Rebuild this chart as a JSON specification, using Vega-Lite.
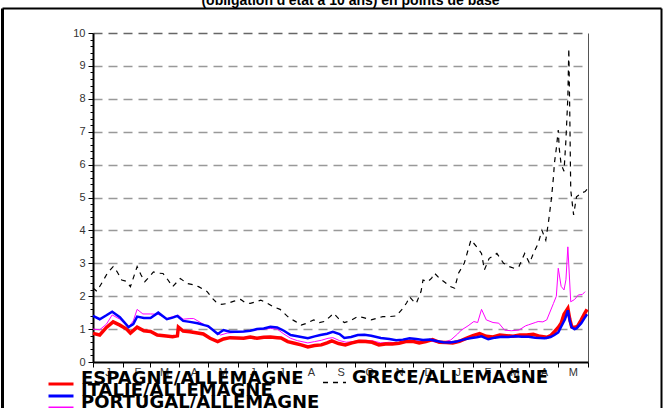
{
  "$schema": "https://vega.github.io/schema/vega-lite/v6.json",
  "width": 495,
  "height": 329,
  "autosize": "none",
  "padding": {"left": 93, "top": 33, "right": 75, "bottom": 46},
  "background": "white",
  "title": {"text": "(obligation d'état à 10 ans) en points de base", "anchor": "middle", "frame": "group", "font": "Liberation Sans", "fontSize": 14, "fontWeight": "bold", "baseline": "alphabetic", "offset": 0, "dy": 11, "dx": 10, "color": "black"},
  "config": {"view": {"stroke": null}, "font": "Liberation Sans",
    "legend": {"title": null, "orient": "none", "padding": 0, "symbolType": "stroke", "labelFont": "DejaVu Sans", "labelFontWeight": "bold", "labelFontSize": 18, "labelColor": "black", "labelBaseline": "alphabetic", "labelLimit": 0}},
  "datasets": {
    "esp": [
      {"d":"2009-01-01","v":0.87},{"d":"2009-01-08","v":0.82},{"d":"2009-01-15","v":1.05},{"d":"2009-01-22","v":1.22},{"d":"2009-01-29","v":1.12},{"d":"2009-02-05","v":1.0},{"d":"2009-02-09","v":0.88},{"d":"2009-02-16","v":1.06},{"d":"2009-02-23","v":0.95},{"d":"2009-03-02","v":0.93},{"d":"2009-03-09","v":0.82},{"d":"2009-03-16","v":0.8},{"d":"2009-03-25","v":0.77},{"d":"2009-03-30","v":0.8},{"d":"2009-03-31","v":1.06},{"d":"2009-04-05","v":0.94},{"d":"2009-04-12","v":0.92},{"d":"2009-04-20","v":0.88},{"d":"2009-04-26","v":0.85},{"d":"2009-05-03","v":0.72},{"d":"2009-05-11","v":0.62},{"d":"2009-05-17","v":0.7},{"d":"2009-05-24","v":0.74},{"d":"2009-05-31","v":0.73},{"d":"2009-06-07","v":0.72},{"d":"2009-06-14","v":0.76},{"d":"2009-06-21","v":0.72},{"d":"2009-06-28","v":0.75},{"d":"2009-07-05","v":0.76},{"d":"2009-07-12","v":0.74},{"d":"2009-07-16","v":0.73},{"d":"2009-07-23","v":0.62},{"d":"2009-07-30","v":0.57},{"d":"2009-08-06","v":0.52},{"d":"2009-08-13","v":0.46},{"d":"2009-08-20","v":0.5},{"d":"2009-08-27","v":0.52},{"d":"2009-09-02","v":0.58},{"d":"2009-09-07","v":0.64},{"d":"2009-09-14","v":0.56},{"d":"2009-09-21","v":0.52},{"d":"2009-09-28","v":0.58},{"d":"2009-10-05","v":0.63},{"d":"2009-10-12","v":0.62},{"d":"2009-10-19","v":0.6},{"d":"2009-10-26","v":0.52},{"d":"2009-11-02","v":0.55},{"d":"2009-11-09","v":0.55},{"d":"2009-11-16","v":0.57},{"d":"2009-11-23","v":0.62},{"d":"2009-11-30","v":0.63},{"d":"2009-12-07","v":0.58},{"d":"2009-12-14","v":0.62},{"d":"2009-12-21","v":0.68},{"d":"2009-12-28","v":0.6},{"d":"2010-01-04","v":0.59},{"d":"2010-01-11","v":0.58},{"d":"2010-01-18","v":0.63},{"d":"2010-01-25","v":0.72},{"d":"2010-02-01","v":0.8},{"d":"2010-02-08","v":0.86},{"d":"2010-02-15","v":0.78},{"d":"2010-02-22","v":0.76},{"d":"2010-03-01","v":0.82},{"d":"2010-03-08","v":0.8},{"d":"2010-03-15","v":0.78},{"d":"2010-03-22","v":0.82},{"d":"2010-03-29","v":0.82},{"d":"2010-04-05","v":0.84},{"d":"2010-04-12","v":0.78},{"d":"2010-04-19","v":0.75},{"d":"2010-04-23","v":0.8},{"d":"2010-04-27","v":0.92},{"d":"2010-05-01","v":1.05},{"d":"2010-05-04","v":1.18},{"d":"2010-05-07","v":1.45},{"d":"2010-05-11","v":1.63},{"d":"2010-05-13","v":1.3},{"d":"2010-05-15","v":1.07},{"d":"2010-05-18","v":1.05},{"d":"2010-05-21","v":1.08},{"d":"2010-05-25","v":1.28},{"d":"2010-05-28","v":1.45},{"d":"2010-05-31","v":1.6}
    ],
    "ita": [
      {"d":"2009-01-01","v":1.4},{"d":"2009-01-08","v":1.3},{"d":"2009-01-15","v":1.42},{"d":"2009-01-21","v":1.53},{"d":"2009-01-29","v":1.36},{"d":"2009-02-07","v":1.06},{"d":"2009-02-12","v":1.15},{"d":"2009-02-16","v":1.38},{"d":"2009-02-23","v":1.34},{"d":"2009-03-02","v":1.34},{"d":"2009-03-10","v":1.5},{"d":"2009-03-19","v":1.3},{"d":"2009-03-25","v":1.35},{"d":"2009-03-30","v":1.4},{"d":"2009-04-05","v":1.25},{"d":"2009-04-12","v":1.22},{"d":"2009-04-20","v":1.18},{"d":"2009-04-27","v":1.12},{"d":"2009-05-01","v":1.09},{"d":"2009-05-07","v":0.95},{"d":"2009-05-11","v":0.85},{"d":"2009-05-17","v":0.97},{"d":"2009-05-24","v":0.92},{"d":"2009-05-31","v":0.92},{"d":"2009-06-07","v":0.93},{"d":"2009-06-14","v":0.95},{"d":"2009-06-21","v":1.0},{"d":"2009-06-28","v":1.02},{"d":"2009-07-05","v":1.07},{"d":"2009-07-12","v":1.05},{"d":"2009-07-19","v":0.95},{"d":"2009-07-26","v":0.82},{"d":"2009-08-02","v":0.78},{"d":"2009-08-13","v":0.72},{"d":"2009-08-20","v":0.78},{"d":"2009-08-26","v":0.82},{"d":"2009-09-02","v":0.86},{"d":"2009-09-08","v":0.92},{"d":"2009-09-15","v":0.85},{"d":"2009-09-20","v":0.73},{"d":"2009-09-27","v":0.76},{"d":"2009-10-04","v":0.82},{"d":"2009-10-11","v":0.83},{"d":"2009-10-18","v":0.8},{"d":"2009-10-28","v":0.73},{"d":"2009-11-06","v":0.7},{"d":"2009-11-13","v":0.66},{"d":"2009-11-20","v":0.68},{"d":"2009-11-27","v":0.72},{"d":"2009-12-04","v":0.7},{"d":"2009-12-11","v":0.67},{"d":"2009-12-18","v":0.68},{"d":"2009-12-25","v":0.64},{"d":"2010-01-01","v":0.6},{"d":"2010-01-08","v":0.59},{"d":"2010-01-15","v":0.62},{"d":"2010-01-22","v":0.68},{"d":"2010-01-29","v":0.72},{"d":"2010-02-05","v":0.75},{"d":"2010-02-10","v":0.78},{"d":"2010-02-17","v":0.69},{"d":"2010-02-24","v":0.74},{"d":"2010-03-03","v":0.77},{"d":"2010-03-10","v":0.76},{"d":"2010-03-17","v":0.78},{"d":"2010-03-24","v":0.77},{"d":"2010-03-31","v":0.77},{"d":"2010-04-07","v":0.74},{"d":"2010-04-17","v":0.72},{"d":"2010-04-23","v":0.76},{"d":"2010-04-27","v":0.82},{"d":"2010-05-01","v":0.9},{"d":"2010-05-04","v":1.07},{"d":"2010-05-08","v":1.3},{"d":"2010-05-11","v":1.57},{"d":"2010-05-13","v":1.25},{"d":"2010-05-15","v":1.05},{"d":"2010-05-18","v":1.0},{"d":"2010-05-20","v":1.02},{"d":"2010-05-25","v":1.18},{"d":"2010-05-28","v":1.32},{"d":"2010-05-31","v":1.45}
    ],
    "por": [
      {"d":"2009-01-01","v":1.0},{"d":"2009-01-08","v":0.98},{"d":"2009-01-15","v":1.15},{"d":"2009-01-21","v":1.43},{"d":"2009-01-29","v":1.3},{"d":"2009-02-07","v":1.06},{"d":"2009-02-12","v":1.25},{"d":"2009-02-16","v":1.6},{"d":"2009-02-22","v":1.46},{"d":"2009-03-02","v":1.46},{"d":"2009-03-10","v":1.45},{"d":"2009-03-19","v":1.32},{"d":"2009-03-25","v":1.38},{"d":"2009-03-31","v":1.42},{"d":"2009-04-05","v":1.3},{"d":"2009-04-12","v":1.32},{"d":"2009-04-16","v":1.32},{"d":"2009-04-26","v":1.15},{"d":"2009-05-03","v":1.02},{"d":"2009-05-14","v":0.82},{"d":"2009-05-21","v":0.88},{"d":"2009-05-31","v":0.9},{"d":"2009-06-07","v":0.92},{"d":"2009-06-14","v":0.96},{"d":"2009-06-21","v":0.98},{"d":"2009-06-28","v":1.0},{"d":"2009-07-05","v":1.02},{"d":"2009-07-12","v":1.0},{"d":"2009-07-19","v":0.85},{"d":"2009-07-26","v":0.72},{"d":"2009-08-02","v":0.65},{"d":"2009-08-13","v":0.58},{"d":"2009-08-20","v":0.62},{"d":"2009-08-27","v":0.66},{"d":"2009-09-03","v":0.72},{"d":"2009-09-08","v":0.74},{"d":"2009-09-15","v":0.65},{"d":"2009-09-22","v":0.6},{"d":"2009-09-29","v":0.62},{"d":"2009-10-06","v":0.66},{"d":"2009-10-13","v":0.66},{"d":"2009-10-20","v":0.64},{"d":"2009-10-28","v":0.58},{"d":"2009-11-06","v":0.6},{"d":"2009-11-13","v":0.58},{"d":"2009-11-20","v":0.62},{"d":"2009-11-27","v":0.66},{"d":"2009-12-04","v":0.64},{"d":"2009-12-11","v":0.62},{"d":"2009-12-18","v":0.64},{"d":"2009-12-25","v":0.6},{"d":"2010-01-01","v":0.6},{"d":"2010-01-09","v":0.67},{"d":"2010-01-16","v":0.85},{"d":"2010-01-20","v":0.97},{"d":"2010-01-27","v":1.1},{"d":"2010-02-02","v":1.23},{"d":"2010-02-06","v":1.2},{"d":"2010-02-10","v":1.6},{"d":"2010-02-15","v":1.28},{"d":"2010-02-22","v":1.2},{"d":"2010-02-28","v":1.18},{"d":"2010-03-06","v":0.97},{"d":"2010-03-13","v":0.95},{"d":"2010-03-21","v":0.97},{"d":"2010-03-28","v":1.1},{"d":"2010-03-31","v":1.13},{"d":"2010-04-07","v":1.2},{"d":"2010-04-10","v":1.23},{"d":"2010-04-15","v":1.22},{"d":"2010-04-19","v":1.28},{"d":"2010-04-26","v":1.78},{"d":"2010-04-29","v":2.0},{"d":"2010-05-01","v":2.85},{"d":"2010-05-04","v":2.3},{"d":"2010-05-07","v":2.19},{"d":"2010-05-09","v":2.5},{"d":"2010-05-11","v":3.5},{"d":"2010-05-14","v":1.83},{"d":"2010-05-18","v":1.9},{"d":"2010-05-22","v":2.04},{"d":"2010-05-26","v":2.05},{"d":"2010-05-29","v":2.14}
    ],
    "gre": [
      {"d":"2009-01-01","v":2.25},{"d":"2009-01-05","v":2.15},{"d":"2009-01-11","v":2.44},{"d":"2009-01-16","v":2.7},{"d":"2009-01-22","v":2.9},{"d":"2009-01-26","v":2.75},{"d":"2009-01-31","v":2.49},{"d":"2009-02-05","v":2.45},{"d":"2009-02-09","v":2.29},{"d":"2009-02-16","v":2.9},{"d":"2009-02-20","v":2.65},{"d":"2009-02-24","v":2.44},{"d":"2009-03-01","v":2.6},{"d":"2009-03-05","v":2.74},{"d":"2009-03-10","v":2.7},{"d":"2009-03-15","v":2.69},{"d":"2009-03-20","v":2.5},{"d":"2009-03-25","v":2.29},{"d":"2009-04-02","v":2.54},{"d":"2009-04-09","v":2.39},{"d":"2009-04-15","v":2.35},{"d":"2009-04-21","v":2.29},{"d":"2009-04-30","v":2.14},{"d":"2009-05-05","v":1.95},{"d":"2009-05-09","v":1.83},{"d":"2009-05-15","v":1.75},{"d":"2009-05-21","v":1.78},{"d":"2009-05-28","v":1.85},{"d":"2009-06-04","v":1.9},{"d":"2009-06-09","v":1.8},{"d":"2009-06-14","v":1.78},{"d":"2009-06-20","v":1.83},{"d":"2009-06-25","v":1.88},{"d":"2009-07-01","v":1.8},{"d":"2009-07-08","v":1.68},{"d":"2009-07-15","v":1.6},{"d":"2009-07-23","v":1.38},{"d":"2009-07-30","v":1.25},{"d":"2009-08-06","v":1.12},{"d":"2009-08-12","v":1.18},{"d":"2009-08-19","v":1.28},{"d":"2009-08-25","v":1.2},{"d":"2009-08-30","v":1.23},{"d":"2009-09-04","v":1.35},{"d":"2009-09-09","v":1.48},{"d":"2009-09-14","v":1.32},{"d":"2009-09-20","v":1.2},{"d":"2009-09-26","v":1.25},{"d":"2009-10-04","v":1.38},{"d":"2009-10-10","v":1.35},{"d":"2009-10-18","v":1.28},{"d":"2009-10-24","v":1.33},{"d":"2009-10-30","v":1.38},{"d":"2009-11-06","v":1.38},{"d":"2009-11-13","v":1.4},{"d":"2009-11-20","v":1.63},{"d":"2009-11-24","v":1.8},{"d":"2009-11-27","v":1.98},{"d":"2009-12-01","v":1.85},{"d":"2009-12-04","v":1.78},{"d":"2009-12-09","v":2.15},{"d":"2009-12-11","v":2.49},{"d":"2009-12-16","v":2.44},{"d":"2009-12-20","v":2.55},{"d":"2009-12-23","v":2.7},{"d":"2009-12-28","v":2.55},{"d":"2010-01-02","v":2.44},{"d":"2010-01-08","v":2.3},{"d":"2010-01-13","v":2.24},{"d":"2010-01-17","v":2.7},{"d":"2010-01-23","v":3.0},{"d":"2010-01-30","v":3.71},{"d":"2010-02-05","v":3.5},{"d":"2010-02-10","v":3.3},{"d":"2010-02-13","v":2.8},{"d":"2010-02-18","v":3.15},{"d":"2010-02-26","v":3.3},{"d":"2010-03-05","v":3.0},{"d":"2010-03-11","v":2.9},{"d":"2010-03-16","v":2.85},{"d":"2010-03-21","v":2.9},{"d":"2010-03-27","v":3.3},{"d":"2010-04-01","v":3.0},{"d":"2010-04-05","v":3.3},{"d":"2010-04-10","v":3.6},{"d":"2010-04-14","v":4.0},{"d":"2010-04-18","v":3.7},{"d":"2010-04-21","v":4.3},{"d":"2010-04-24","v":5.0},{"d":"2010-04-26","v":5.63},{"d":"2010-04-27","v":6.04},{"d":"2010-04-29","v":6.5},{"d":"2010-05-01","v":7.05},{"d":"2010-05-02","v":6.5},{"d":"2010-05-04","v":6.0},{"d":"2010-05-07","v":5.8},{"d":"2010-05-09","v":6.75},{"d":"2010-05-11","v":8.06},{"d":"2010-05-12","v":9.53},{"d":"2010-05-13","v":7.56},{"d":"2010-05-14","v":5.23},{"d":"2010-05-17","v":4.47},{"d":"2010-05-20","v":5.02},{"d":"2010-05-25","v":5.13},{"d":"2010-05-29","v":5.18},{"d":"2010-05-31","v":5.25}
    ]
  },
  "layer": [
    {
      "data": {"values": [{"f": 0}]},
      "mark": {"type": "point", "opacity": 0},
      "encoding": {
        "x": {"field": "f", "type": "quantitative", "scale": {"domain": [0, 1], "range": [-91, 568], "nice": false, "zero": false}, "axis": {"orient": "top", "offset": 25, "domainColor": "black", "domainWidth": 2, "ticks": false, "labels": false, "grid": false, "title": null}},
        "y": {"field": "f", "type": "quantitative", "scale": {"domain": [0, 1], "range": [387, -25], "nice": false, "zero": false}, "axis": {"orient": "left", "offset": 91, "domainColor": "black", "domainWidth": 3, "ticks": false, "labels": false, "grid": false, "title": null}}
      }
    },
    {
      "data": {"values": [{"f": 0}]},
      "mark": {"type": "point", "opacity": 0},
      "encoding": {
        "y": {"field": "f", "type": "quantitative", "scale": {"domain": [0, 1], "range": [387, -25], "nice": false, "zero": false}, "axis": {"orient": "right", "offset": 73, "domainColor": "black", "domainWidth": 2, "ticks": false, "labels": false, "grid": false, "title": null}}
      }
    },
    {
      "encoding": {
        "x": {"field": "d", "type": "temporal",
          "scale": {"type": "utc", "domain": [{"year": 2009, "month": 1, "date": 1, "utc": true}, {"year": 2010, "month": 6, "date": 1, "utc": true}]},
          "axis": {"title": null, "orient": "bottom",
            "values": [{"year":2009,"month":1,"date":1,"utc":true},{"year":2009,"month":2,"date":1,"utc":true},{"year":2009,"month":3,"date":1,"utc":true},{"year":2009,"month":4,"date":1,"utc":true},{"year":2009,"month":5,"date":1,"utc":true},{"year":2009,"month":6,"date":1,"utc":true},{"year":2009,"month":7,"date":1,"utc":true},{"year":2009,"month":8,"date":1,"utc":true},{"year":2009,"month":9,"date":1,"utc":true},{"year":2009,"month":10,"date":1,"utc":true},{"year":2009,"month":11,"date":1,"utc":true},{"year":2009,"month":12,"date":1,"utc":true},{"year":2010,"month":1,"date":1,"utc":true},{"year":2010,"month":2,"date":1,"utc":true},{"year":2010,"month":3,"date":1,"utc":true},{"year":2010,"month":4,"date":1,"utc":true},{"year":2010,"month":5,"date":1,"utc":true},{"year":2010,"month":6,"date":1,"utc":true}],
            "labelExpr": "(utcyear(datum.value) == 2010 && utcmonth(datum.value) == 5) ? '' : ['J','F','M','A','M','J','J','A','S','O','N','D'][utcmonth(datum.value)]",
            "labelOffset": 14.5, "labelFlush": false, "labelOverlap": false, "labelBound": false,
            "labelFont": "Liberation Sans", "labelFontSize": 11, "labelColor": "#333",
            "tickSize": 5, "tickColor": "black", "domainColor": "black", "domainWidth": 2, "labelPadding": -1,
            "grid": true, "gridColor": "#555", "gridWidth": 1,
            "gridOpacity": {"condition": {"test": "utcyear(datum.value) == 2010 && utcmonth(datum.value) == 5", "value": 1}, "value": 0}
          }
        },
        "y": {"field": "v", "type": "quantitative",
          "scale": {"domain": [0, 10], "nice": false},
          "axis": {"title": null, "orient": "left",
            "values": [0,0.2,0.4,0.6,0.8,1,1.2,1.4,1.6,1.8,2,2.2,2.4,2.6,2.8,3,3.2,3.4,3.6,3.8,4,4.2,4.4,4.6,4.8,5,5.2,5.4,5.6,5.8,6,6.2,6.4,6.6,6.8,7,7.2,7.4,7.6,7.8,8,8.2,8.4,8.6,8.8,9,9.2,9.4,9.6,9.8,10],
            "labelExpr": "abs(datum.value - round(datum.value)) < 0.01 ? '' + round(datum.value) : ''",
            "tickSize": {"condition": {"test": "abs(datum.value - round(datum.value)) < 0.01", "value": 5}, "value": 3},
            "tickColor": "black", "domainColor": "black", "domainWidth": 2,
            "labelFont": "Liberation Sans", "labelFontSize": 11, "labelColor": "#333", "labelPadding": 3, "labelOverlap": false,
            "grid": true, "gridDash": [9, 6], "gridWidth": 1.5,
            "gridColor": {"condition": {"test": "datum.value > 9.9", "value": "#666"}, "value": "#999"},
            "gridOpacity": {"condition": {"test": "abs(datum.value - round(datum.value)) < 0.01 && datum.value > 0.5", "value": 1}, "value": 0}
          }
        }
      },
      "layer": [
        {
          "data": {"name": "gre"},
          "mark": {"type": "line", "color": "black", "strokeWidth": 1.2},
          "encoding": {
            "strokeDash": {"datum": "GRECE/ALLEMAGNE", "type": "nominal", "scale": {"range": [[5, 5]]},
              "legend": {"legendX": 229, "legendY": 337,
                "symbolSize": 529, "symbolStrokeWidth": 1.5, "symbolStrokeColor": "black", "labelOffset": 5,
                "encode": {"symbols": {"update": {"strokeDash": {"value": [7, 9]}, "stroke": {"value": "black"}}}}}
            }
          }
        },
        {
          "data": {"name": "por"},
          "mark": {"type": "line", "strokeWidth": 1, "color": "#ff00ff"},
          "encoding": {
            "opacity": {"datum": "PORTUGAL/ALLEMAGNE", "type": "nominal", "scale": {"range": [1]},
              "legend": {"legendX": -46, "legendY": 361, "symbolSize": 625, "symbolStrokeWidth": 3, "symbolStrokeColor": "#ff00ff", "labelOffset": 6,
                "encode": {"symbols": {"update": {"stroke": {"value": "#ff00ff"}}}}}
            }
          }
        },
        {
          "data": {"name": "esp"},
          "mark": {"type": "line", "strokeWidth": 3.5},
          "encoding": {
            "stroke": {"datum": "ESPAGNE/ALLEMAGNE", "type": "nominal", "scale": {"range": ["#ff0000"]},
              "legend": {"legendX": -46, "legendY": 337, "symbolSize": 625, "symbolStrokeWidth": 3, "labelOffset": 6}
            }
          }
        },
        {
          "data": {"name": "ita"},
          "mark": {"type": "line", "strokeWidth": 2.5},
          "encoding": {
            "color": {"datum": "ITALIE/ALLEMAGNE", "type": "nominal", "scale": {"range": ["#0000ff"]},
              "legend": {"legendX": -46, "legendY": 349, "symbolSize": 625, "symbolStrokeWidth": 3, "labelOffset": 6}
            }
          }
        }
      ]
    }
  ],
  "resolve": {"scale": {"x": "independent", "y": "independent"}, "axis": {"x": "independent", "y": "independent"}}
}
